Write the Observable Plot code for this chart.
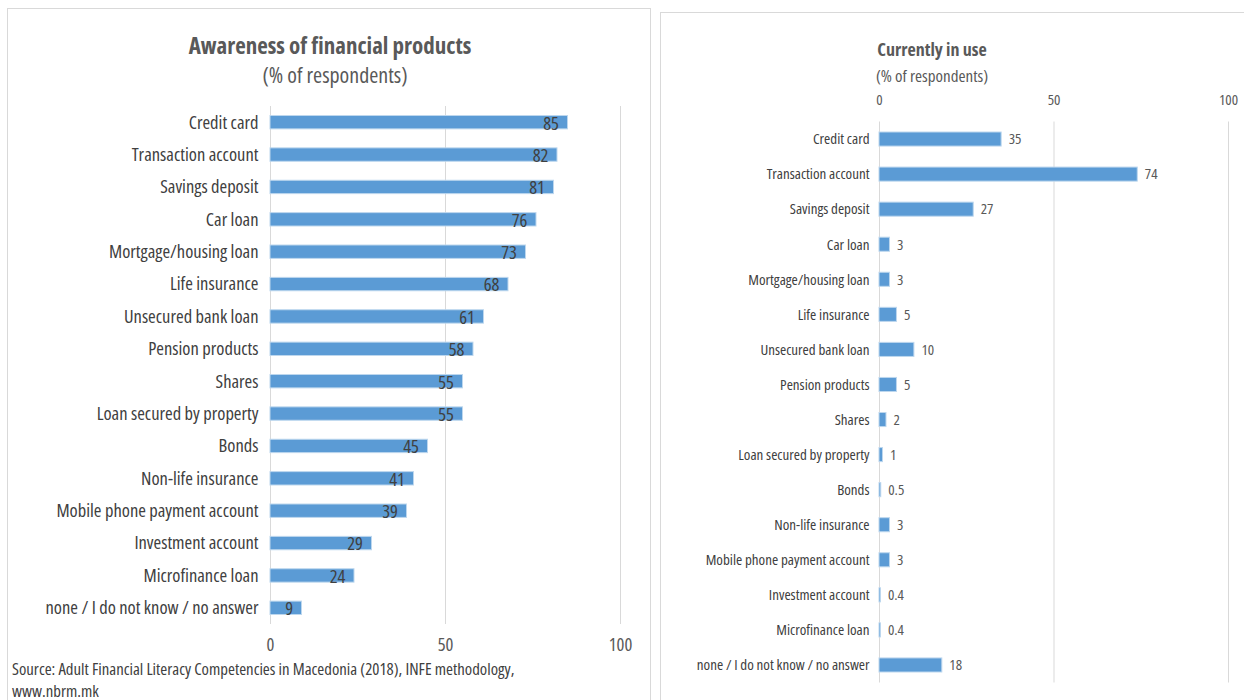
<!DOCTYPE html>
<html>
<head>
<meta charset="utf-8">
<script src="https://cdn.jsdelivr.net/npm/d3@7"></script>
<script src="https://cdn.jsdelivr.net/npm/@observablehq/plot@0.6"></script>
<style>
  html, body { margin: 0; padding: 0; background: #fff; }
  body { width: 1244px; height: 700px; position: relative; overflow: hidden;
         font-family: "Open Sans", "DejaVu Sans", sans-serif; font-stretch: 75%; color: #595959; }
  .panel { position: absolute; border: 1px solid #d9d9d9; box-sizing: border-box; }
  .abs { position: absolute; white-space: nowrap; }
  .src { line-height: 1; color: #404040; font-size: 16.8px; }
  .title { font-weight: bold; color: #595959; transform: translateX(-50%); }
  .sub { color: #595959; transform: translateX(-50%); }
  #left, #right { position: absolute; }
  #left svg, #right svg { display: block; }
</style>
</head>
<body>
<div class="panel" style="left:7px; top:8px; width:644px; height:720px;"></div>
<div class="panel" style="left:660px; top:12px; width:600px; height:720px;"></div>

<div class="abs title" style="left:330px; top:29px; font-size:23px;">Awareness of financial products</div>
<div class="abs sub" style="left:335px; top:59px; font-size:22px;">(% of respondents)</div>

<div class="abs title" style="left:932px; top:37px; font-size:18px;">Currently in use</div>
<div class="abs sub" style="left:932px; top:64px; font-size:17px;">(% of respondents)</div>

<div id="left" style="left:0; top:90px;"></div>
<div id="right" style="left:661px; top:85px;"></div>

<div class="abs src" style="left:12px; top:661px;">Source: Adult Financial Literacy Competencies in Macedonia (2018), INFE methodology,</div>
<div class="abs src" style="left:12px; top:683px;">www.nbrm.mk</div>

<script>
const categories = [
  "Credit card", "Transaction account", "Savings deposit", "Car loan",
  "Mortgage/housing loan", "Life insurance", "Unsecured bank loan",
  "Pension products", "Shares", "Loan secured by property", "Bonds",
  "Non-life insurance", "Mobile phone payment account", "Investment account",
  "Microfinance loan", "none / I do not know / no answer"
];
const awareness = [85, 82, 81, 76, 73, 68, 61, 58, 55, 55, 45, 41, 39, 29, 24, 9];
const inUse = [35, 74, 27, 3, 3, 5, 10, 5, 2, 1, 0.5, 3, 3, 0.4, 0.4, 18];
const xTicks = [0, 50, 100];

const barColor = "#5b9bd5";
const gridColor = "#d9d9d9";
const textColor = "#595959";
const font = '"Open Sans", "DejaVu Sans", sans-serif';

const leftData = categories.map((c, i) => ({cat: c, v: awareness[i]}));
const rightData = categories.map((c, i) => ({cat: c, v: inUse[i]}));

const left = Plot.plot({
  width: 652, height: 580,
  marginLeft: 270, marginRight: 32, marginTop: 16, marginBottom: 46,
  style: {fontFamily: font, fontSize: "18.5px", fontStretch: "75%", color: textColor, background: "transparent"},
  x: {domain: [0, 100], ticks: xTicks, grid: false, label: null},
  y: {domain: categories, padding: 0, round: false, label: null},
  marks: [
    Plot.ruleX(xTicks, {stroke: gridColor, strokeWidth: 1}),
    Plot.barX(leftData, {x: "v", y: "cat", fill: barColor, stroke: "#bdd7ee", strokeWidth: 1, insetTop: 9.5, insetBottom: 9.5}),
    Plot.text(leftData, {x: "v", y: "cat", text: d => String(d.v), textAnchor: "end", dx: -9, dy: 1, fill: "#404040", fontSize: 18.5}),
    Plot.axisX({ticks: xTicks, tickSize: 0, tickPadding: 13, fontSize: 18.5, anchor: "bottom", color: textColor, tickFormat: d => d, label: null}),
    Plot.axisY({tickSize: 0, tickPadding: 12, fontSize: 18.5, anchor: "left", color: "#404040", label: null})
  ]
});
document.getElementById("left").appendChild(left);

const right = Plot.plot({
  width: 583, height: 615,
  marginLeft: 218, marginRight: 16, marginTop: 36.5, marginBottom: 17.5,
  style: {fontFamily: font, fontSize: "15px", fontStretch: "75%", color: textColor, background: "transparent"},
  x: {domain: [0, 100], ticks: xTicks, grid: false, label: null},
  y: {domain: categories, padding: 0, round: false, label: null},
  marks: [
    Plot.ruleX(xTicks, {stroke: gridColor, strokeWidth: 1}),
    Plot.barX(rightData, {x: "v", y: "cat", fill: barColor, stroke: "#bdd7ee", strokeWidth: 1, insetTop: 10.5, insetBottom: 10.5}),
    Plot.text(rightData, {x: "v", y: "cat", text: d => String(d.v), textAnchor: "start", dx: 7, fill: textColor, fontSize: 15}),
    Plot.axisX({ticks: xTicks, tickSize: 0, tickPadding: 17, fontSize: 15, anchor: "top", color: textColor, tickFormat: d => d, label: null}),
    Plot.axisY({tickSize: 0, tickPadding: 10, fontSize: 15, anchor: "left", color: "#404040", label: null})
  ]
});
document.getElementById("right").appendChild(right);
</script>
</body>
</html>
